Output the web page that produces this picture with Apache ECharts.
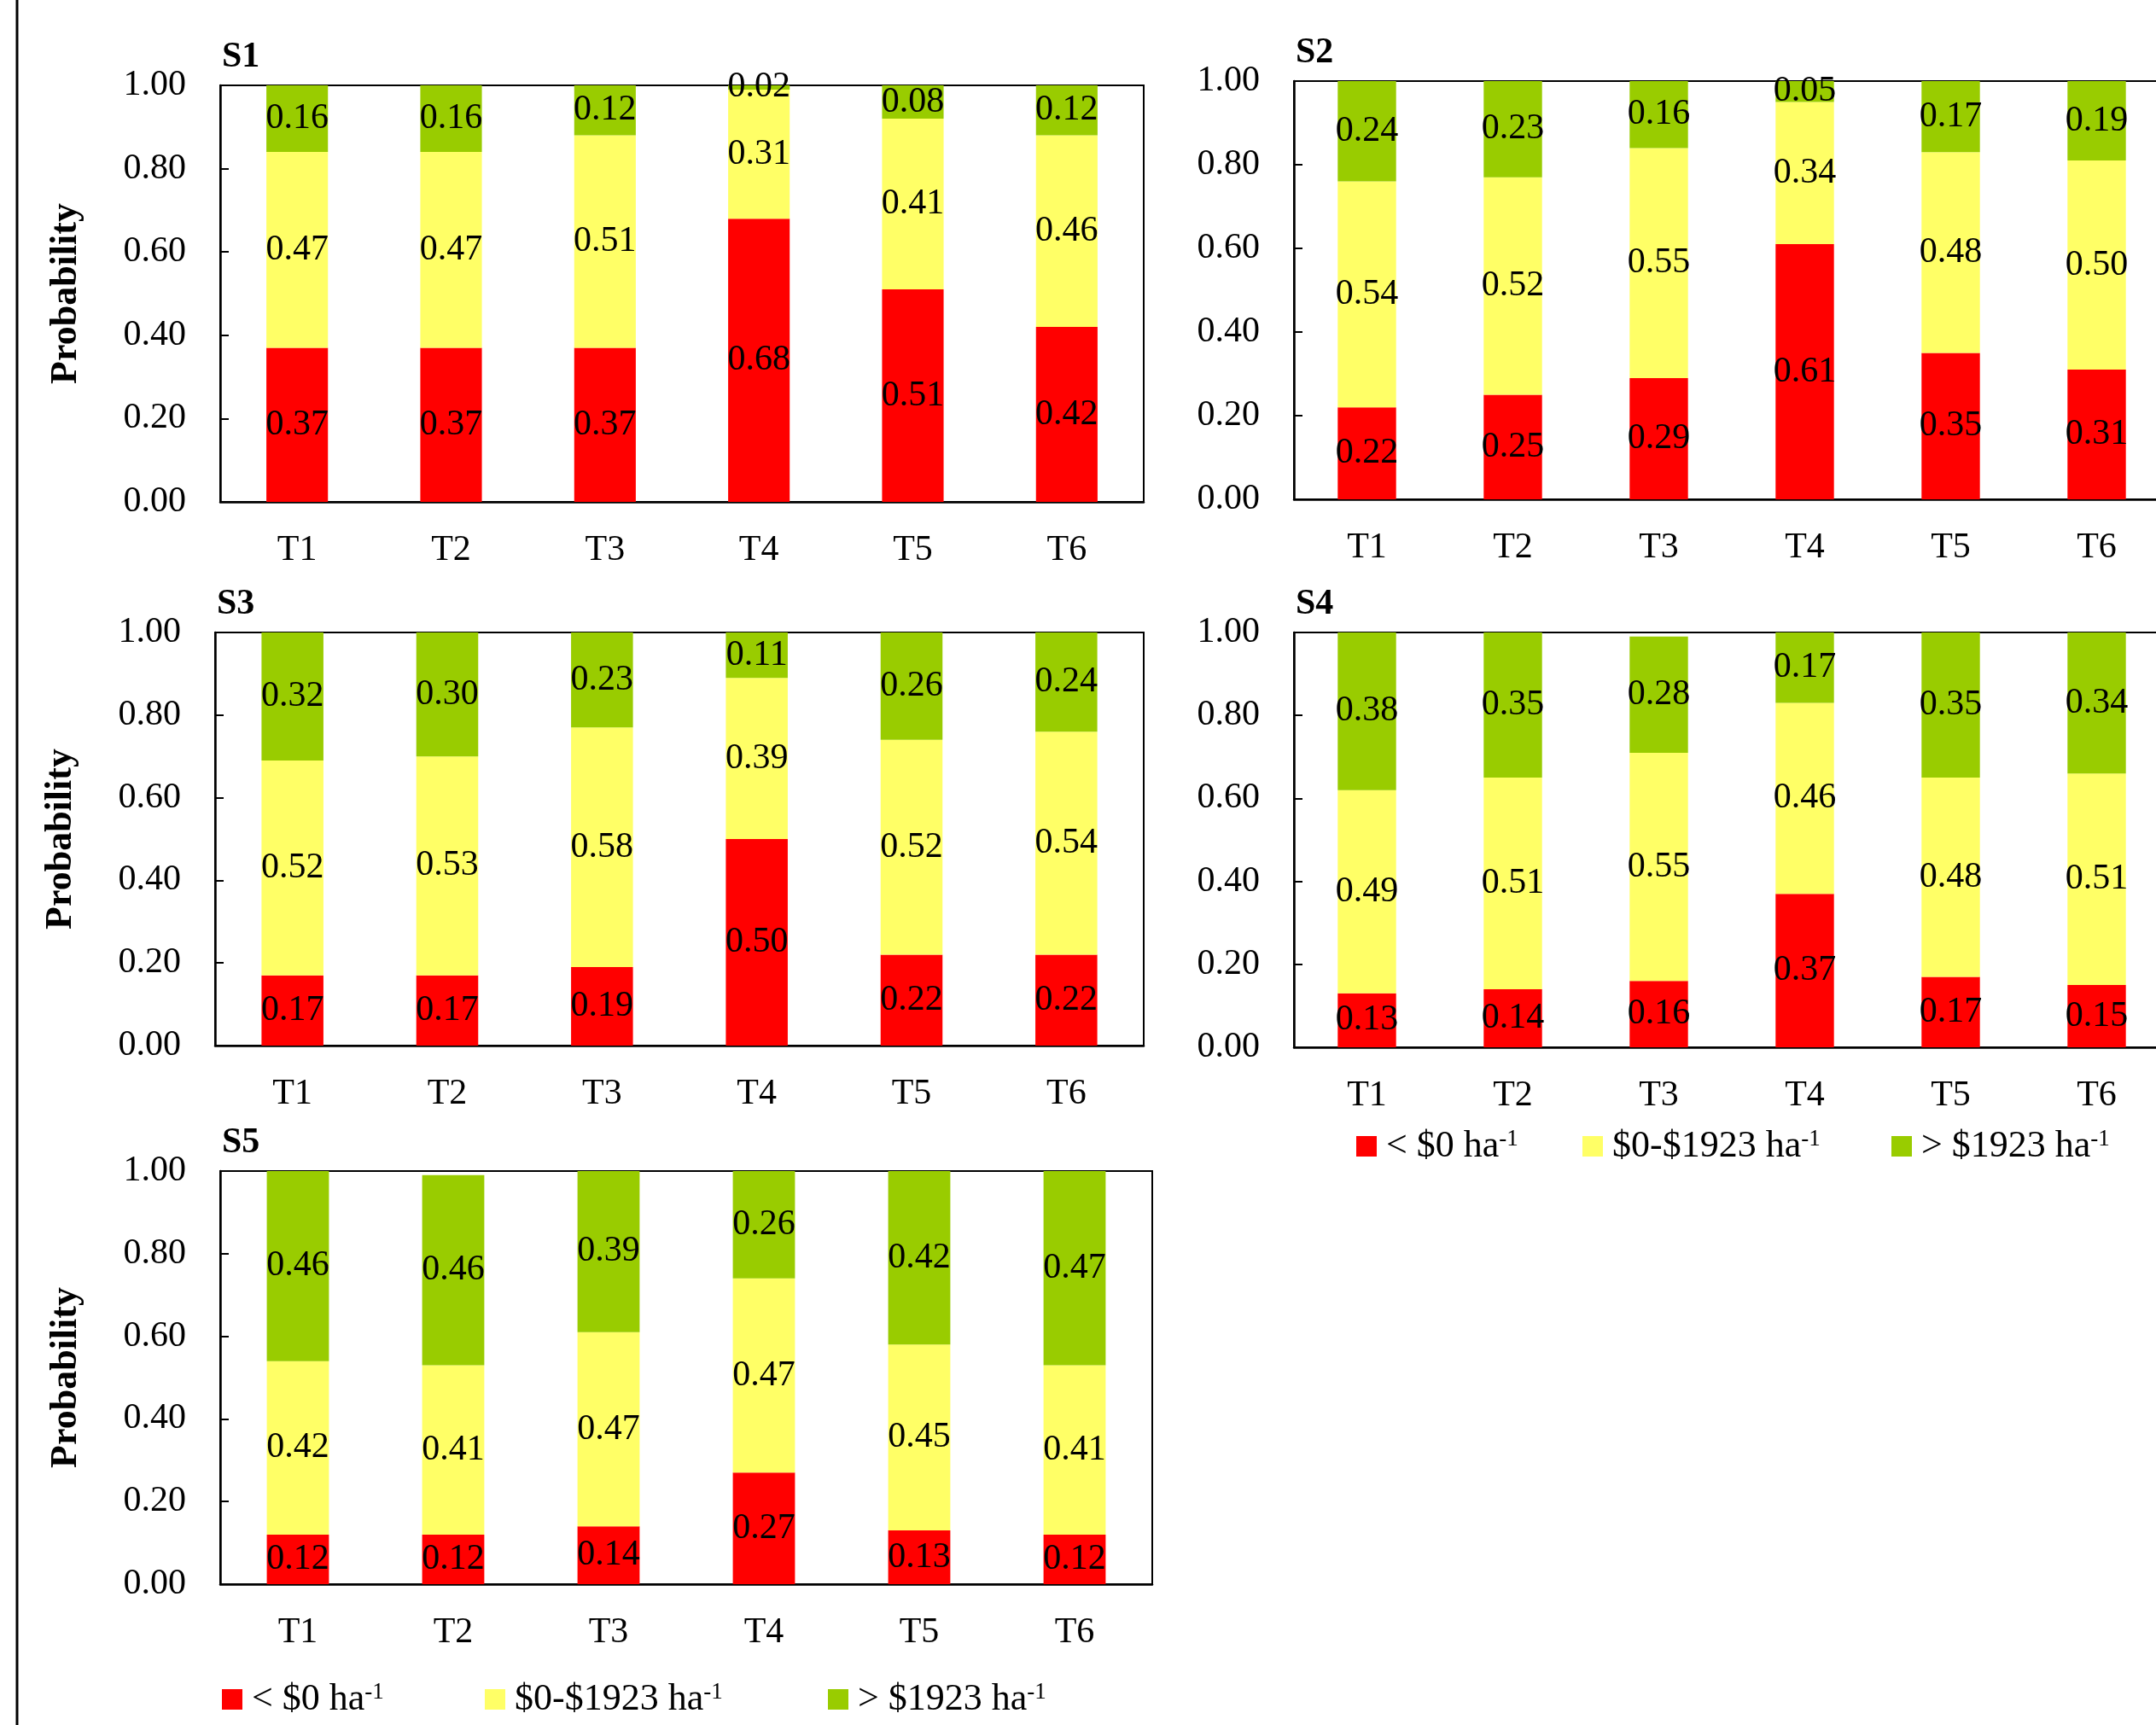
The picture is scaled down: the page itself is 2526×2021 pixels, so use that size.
<!DOCTYPE html>
<html>
<head>
<meta charset="utf-8">
<script src="https://cdn.jsdelivr.net/npm/echarts@6/dist/echarts.min.js"></script>
<style>
  html, body { margin: 0; padding: 0; background: #fff; }
</style>
</head>
<body>
<div id='probChart' style='width:2526px;height:2021px'></div>
<script>
// categories and panels
const treatments = ['T1', 'T2', 'T3', 'T4', 'T5', 'T6']
const scenarios = ['S1', 'S2', 'S3', 'S4', 'S5']
const yTicks = [0, 0.2, 0.4, 0.6, 0.8, 1.0]
const classNames = ['< $0 ha-1', '$0-$1923 ha-1', '> $1923 ha-1']

// probability of each net return class
const s1Low = [0.37, 0.37, 0.37, 0.68, 0.51, 0.42]
const s1Mid = [0.47, 0.47, 0.51, 0.31, 0.41, 0.46]
const s1High = [0.16, 0.16, 0.12, 0.02, 0.08, 0.12]

const s2Low = [0.22, 0.25, 0.29, 0.61, 0.35, 0.31]
const s2Mid = [0.54, 0.52, 0.55, 0.34, 0.48, 0.50]
const s2High = [0.24, 0.23, 0.16, 0.05, 0.17, 0.19]

const s3Low = [0.17, 0.17, 0.19, 0.50, 0.22, 0.22]
const s3Mid = [0.52, 0.53, 0.58, 0.39, 0.52, 0.54]
const s3High = [0.32, 0.30, 0.23, 0.11, 0.26, 0.24]

const s4Low = [0.13, 0.14, 0.16, 0.37, 0.17, 0.15]
const s4Mid = [0.49, 0.51, 0.55, 0.46, 0.48, 0.51]
const s4High = [0.38, 0.35, 0.28, 0.17, 0.35, 0.34]

const s5Low = [0.12, 0.12, 0.14, 0.27, 0.13, 0.12]
const s5Mid = [0.42, 0.41, 0.47, 0.47, 0.45, 0.41]
const s5High = [0.46, 0.46, 0.39, 0.26, 0.42, 0.47]

const panelData = [
  [s1Low, s1Mid, s1High],
  [s2Low, s2Mid, s2High],
  [s3Low, s3Mid, s3High],
  [s4Low, s4Mid, s4High],
  [s5Low, s5Mid, s5High]
]

const colors = ['#ff0000', '#ffff66', '#99cc00']
const font = 'Liberation Serif'

// plot area of each panel (px); S2 and S4 run off the right edge
const boxes = [
  { left: 258, top: 100, width: 1082, height: 488 },
  { left: 1516, top: 95, width: 1026, height: 490 },
  { left: 252, top: 741, width: 1088, height: 484 },
  { left: 1516, top: 741, width: 1026, height: 486 },
  { left: 258, top: 1372, width: 1092, height: 484 }
]
const showYName = [true, false, true, false, true]

let grid = [], xAxis = [], yAxis = [], series = [], title = []

boxes.forEach((b, i) => {
  grid.push({
    left: b.left, top: b.top, width: b.width, height: b.height,
    outerBoundsMode: 'none',
    containLabel: false,
    show: true, borderColor: '#000', borderWidth: 2, backgroundColor: 'transparent'
  })
  title.push({
    text: scenarios[i],
    left: b.left + 2,
    top: b.top - 54,
    padding: 0,
    textStyle: { fontFamily: font, fontWeight: 'bold', fontSize: 42, color: '#000' }
  })
  xAxis.push({
    type: 'category',
    gridIndex: i,
    data: treatments,
    axisLine: { lineStyle: { color: '#000', width: 2.5 } },
    axisTick: { inside: true, length: 10, lineStyle: { color: '#000', width: 2 } },
    axisLabel: { margin: 36, fontFamily: font, fontSize: 42, color: '#000' }
  })
  yAxis.push({
    type: 'value',
    gridIndex: i,
    min: 0,
    max: 1,
    interval: 0.2,
    name: showYName[i] ? 'Probability' : '',
    nameLocation: 'middle',
    nameGap: 158,
    nameTextStyle: { fontFamily: font, fontWeight: 'bold', fontSize: 44, color: '#000' },
    axisLine: { show: true, lineStyle: { color: '#000', width: 2.5 } },
    axisTick: { show: true, inside: true, length: 10, lineStyle: { color: '#000', width: 2 } },
    splitLine: { show: false },
    axisLabel: {
      margin: 40,
      fontFamily: font,
      fontSize: 42,
      color: '#000',
      formatter: v => v.toFixed(2)
    }
  })
  panelData[i].forEach((vals, k) => {
    series.push({
      name: classNames[k],
      type: 'bar',
      stack: 'p' + i,
      xAxisIndex: i,
      yAxisIndex: i,
      barWidth: '40%',
      clip: true,
      itemStyle: { color: colors[k] },
      label: {
        show: true,
        position: 'inside',
        fontFamily: font,
        fontSize: 42,
        color: '#000',
        formatter: p => p.value.toFixed(2)
      },
      data: vals
    })
  })
})

const legendText = {
  fontFamily: font,
  fontSize: 44,
  color: '#000',
  padding: [0, 0, 0, 6],
  rich: {
    sup: { fontFamily: font, fontSize: 27, color: '#000', verticalAlign: 'top', padding: [0, 0, 14, 0] }
  }
}
const legendFormatter = name => name.replace(' ha-1', ' ha{sup|-1}')

// legend positions: marker left edges under S4 and under S5
const legendSpots = [
  { xs: [1589, 1854, 2216], y: 1342 },
  { xs: [260, 568, 970], y: 1990 }
]
let legend = []
legendSpots.forEach(s => {
  s.xs.forEach((x, k) => {
    legend.push({
      data: [classNames[k]],
      left: x - 5,
      top: s.y - 26,
      icon: 'rect',
      itemWidth: 24,
      itemHeight: 24,
      itemGap: 0,
      selectedMode: false,
      textStyle: legendText,
      formatter: legendFormatter
    })
  })
})

let option = {
  backgroundColor: '#fff',
  animation: false,
  title: title,
  legend: legend,
  grid: grid,
  xAxis: xAxis,
  yAxis: yAxis,
  series: series,
  graphic: [
    {
      type: 'line',
      shape: { x1: 20, y1: 0, x2: 20, y2: 2021 },
      style: { stroke: '#000', lineWidth: 3 }
    }
  ]
}

const chart = echarts.init(document.getElementById('probChart'))
chart.setOption(option)
</script>
</body>
</html>
